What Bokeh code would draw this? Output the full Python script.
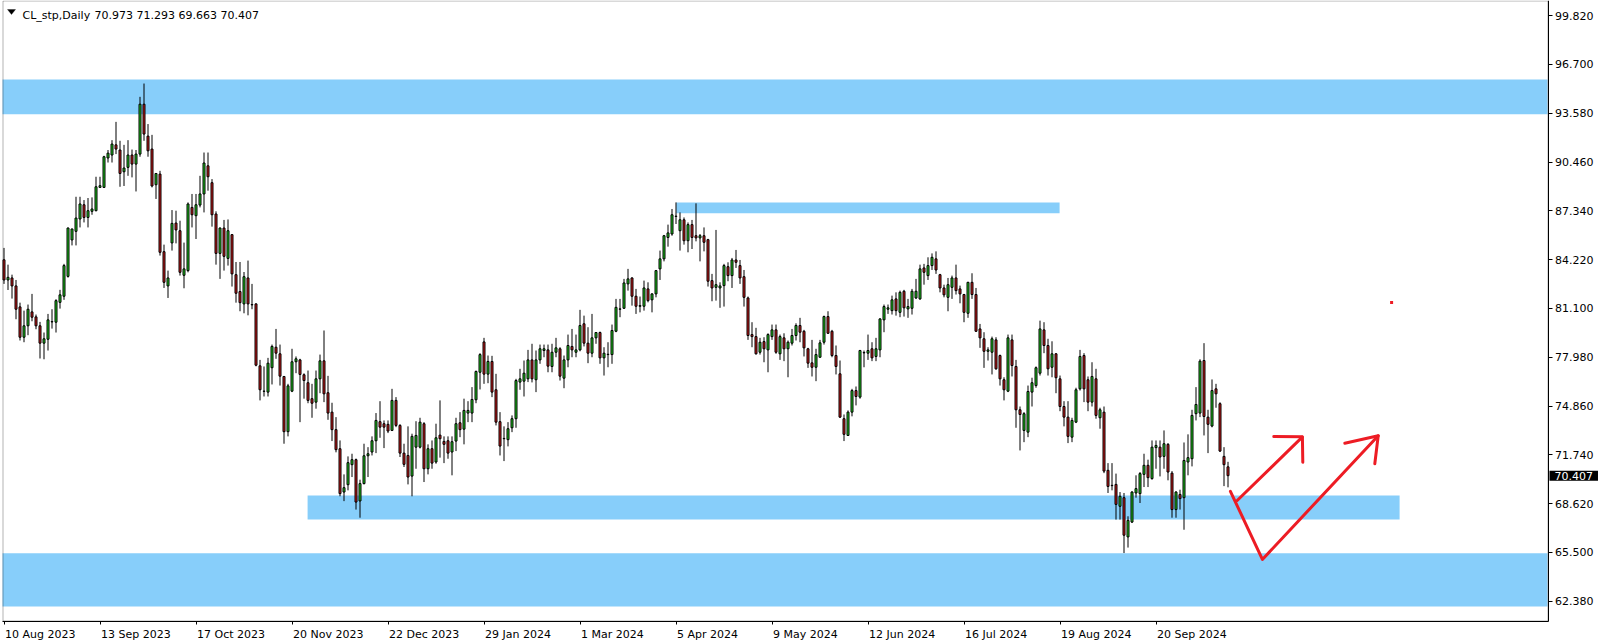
from bokeh.plotting import figure
from bokeh.models import (Range1d, FixedTicker, PrintfTickFormatter, Label, LinearAxis,
                          PolyAnnotation, BoxAnnotation, ColumnDataSource)
from bokeh.embed import file_html
from bokeh.resources import INLINE

# ---------------- data (CL_stp, Daily, one value per bar) ----------------
opens = [84.21, 82.92, 83.05, 82.54, 81.20, 79.26, 79.99, 80.88, 80.56, 79.99,
         78.88, 79.13, 80.24, 80.22, 81.49, 81.88, 83.15, 85.48, 86.03, 86.82,
         87.73, 86.92, 87.31, 87.35, 88.84, 88.84, 90.72, 90.91, 91.56, 91.23,
         89.84, 90.12, 90.91, 90.33, 90.97, 94.16, 92.12, 91.29, 89.01, 89.69,
         84.73, 82.54, 85.29, 86.56, 86.07, 83.22, 83.52, 87.56, 87.03, 87.71,
         88.42, 90.22, 89.14, 87.14, 84.62, 86.24, 84.30, 85.82, 83.26, 82.18,
         81.39, 83.05, 81.35, 81.39, 77.43, 75.81, 75.75, 77.31, 78.62, 78.20,
         76.75, 73.22, 75.81, 77.69, 77.81, 76.86, 76.35, 75.33, 75.11, 76.60,
         77.75, 75.71, 74.47, 73.35, 72.13, 69.36, 69.83, 71.11, 71.43, 68.79,
         69.90, 71.68, 71.92, 72.64, 73.86, 73.73, 73.69, 73.30, 75.22, 73.62,
         71.85, 71.70, 70.38, 72.23, 72.23, 73.73, 70.85, 72.13, 71.28, 73.00,
         72.60, 72.64, 71.92, 72.62, 73.79, 73.38, 74.41, 74.41, 75.26, 77.02,
         78.96, 76.90, 77.71, 75.90, 73.86, 72.79, 72.71, 73.47, 74.05, 76.39,
         76.45, 76.60, 77.81, 76.54, 77.81, 78.41, 78.45, 77.39, 78.30, 78.52,
         76.64, 77.81, 78.67, 78.30, 78.45, 80.12, 78.88, 78.24, 79.22, 79.56,
         77.94, 78.15, 78.15, 79.64, 81.07, 81.11, 82.67, 83.05, 81.88, 81.24,
         81.24, 82.35, 81.65, 82.03, 83.63, 84.27, 85.64, 85.86, 86.98, 86.07,
         86.77, 85.43, 86.46, 85.75, 85.61, 85.75, 85.50, 82.88, 82.45, 82.41,
         82.56, 83.77, 83.20, 84.20, 83.84, 83.13, 81.77, 79.43, 79.30, 78.30,
         78.98, 78.45, 79.30, 79.73, 78.20, 79.22, 78.52, 78.88, 79.37, 80.01,
         79.64, 78.52, 77.62, 77.34, 77.98, 78.94, 80.58, 79.64, 78.09, 76.92,
         74.05, 72.98, 74.47, 75.85, 75.43, 78.28, 78.24, 78.52, 78.03, 78.45,
         80.37, 81.05, 80.96, 81.71, 80.85, 82.20, 81.07, 81.11, 81.77, 81.71,
         83.69, 83.20, 83.84, 84.27, 83.26, 82.41, 81.81, 82.45, 83.05, 82.35,
         81.99, 80.79, 82.77, 81.99, 79.79, 79.16, 78.36, 78.30, 79.09, 78.09,
         76.54, 75.81, 79.09, 77.39, 74.62, 73.30, 73.19, 75.75, 76.17, 76.96,
         79.73, 78.73, 77.34, 78.20, 76.60, 74.83, 74.15, 72.87, 73.83, 75.96,
         78.09, 76.54, 75.11, 76.60, 74.11, 74.47, 70.75, 69.79, 69.85, 68.45,
         69.00, 66.49, 67.44, 69.30, 69.26, 70.49, 71.07, 70.22, 72.20, 72.23,
         71.64, 72.41, 70.57, 68.24, 69.21, 69.00, 71.28, 71.49, 74.37, 74.41,
         77.77, 74.15, 73.58, 75.96, 75.01, 71.64, 70.973]

highs = [84.97, 83.90, 83.26, 82.92, 81.47, 80.96, 81.35, 82.03, 80.71, 80.24,
         79.56, 80.75, 81.05, 81.69, 82.29, 83.95, 86.28, 86.20, 88.24, 88.24,
         88.03, 88.16, 88.20, 89.52, 89.52, 90.86, 91.23, 91.86, 93.03, 91.82,
         91.56, 91.86, 91.26, 91.23, 94.63, 95.48, 92.89, 92.20, 89.73, 89.90,
         85.18, 83.52, 87.39, 87.35, 86.71, 85.31, 87.88, 88.42, 88.42, 89.58,
         91.07, 91.07, 89.37, 87.31, 86.28, 86.76, 86.79, 85.86, 84.07, 84.07,
         83.43, 84.16, 82.67, 81.43, 77.81, 77.39, 77.94, 78.79, 79.79, 78.79,
         76.75, 76.28, 78.52, 78.03, 77.88, 76.95, 77.13, 76.28, 77.13, 78.15,
         79.69, 76.79, 75.07, 74.15, 72.66, 70.49, 71.64, 71.81, 71.50, 70.15,
         72.45, 72.23, 72.92, 74.41, 75.17, 73.94, 73.94, 75.96, 75.43, 73.70,
         72.45, 73.56, 73.09, 73.89, 74.11, 73.83, 72.41, 72.66, 73.73, 75.22,
         72.92, 72.92, 72.92, 74.11, 74.47, 75.33, 75.17, 76.07, 77.13, 78.24,
         79.22, 78.09, 78.07, 76.92, 74.47, 73.56, 73.83, 74.26, 76.60, 77.24,
         77.77, 78.45, 78.84, 78.41, 78.79, 78.79, 78.79, 78.84, 79.22, 78.62,
         78.09, 79.43, 79.79, 79.43, 81.01, 80.64, 79.90, 80.75, 79.58, 79.62,
         78.62, 78.94, 80.07, 81.71, 81.71, 82.99, 83.63, 83.09, 82.35, 81.86,
         82.88, 82.77, 82.07, 83.56, 84.80, 85.80, 86.46, 87.46, 87.88, 87.24,
         86.92, 86.60, 86.76, 87.82, 85.86, 86.28, 85.55, 83.31, 86.12, 82.77,
         83.95, 84.05, 84.33, 84.84, 84.20, 83.56, 81.86, 80.22, 79.86, 79.22,
         79.26, 79.51, 80.07, 80.07, 79.43, 79.51, 79.05, 79.79, 80.15, 80.50,
         79.73, 78.58, 79.09, 78.52, 79.09, 80.64, 80.92, 79.73, 78.73, 77.77,
         74.32, 74.58, 75.96, 76.11, 78.45, 78.41, 79.43, 78.94, 79.22, 80.48,
         81.35, 81.35, 81.92, 82.13, 82.24, 82.29, 81.71, 82.35, 82.99, 83.90,
         83.95, 84.37, 84.62, 84.75, 83.31, 82.62, 83.05, 83.20, 83.90, 82.56,
         82.03, 82.80, 83.35, 82.41, 80.11, 79.58, 78.62, 79.30, 79.26, 78.15,
         76.70, 79.43, 79.43, 77.81, 74.83, 74.47, 76.17, 76.67, 77.39, 80.32,
         80.22, 79.16, 79.00, 78.25, 76.81, 75.17, 75.17, 74.11, 76.03, 78.45,
         78.24, 76.75, 77.66, 77.24, 74.75, 74.83, 71.21, 71.21, 70.54, 69.36,
         69.30, 67.81, 69.42, 70.43, 70.64, 71.81, 71.43, 72.66, 72.66, 72.66,
         73.30, 72.49, 70.70, 69.42, 69.51, 72.53, 73.05, 74.62, 76.07, 77.85,
         78.88, 74.62, 76.56, 76.28, 75.10, 72.23, 71.293]

lows = [82.67, 82.28, 81.73, 80.41, 79.05, 78.94, 79.39, 80.28, 79.77, 77.90,
        77.85, 78.41, 79.81, 79.56, 81.09, 81.65, 83.07, 85.13, 85.13, 86.28,
        86.60, 86.28, 87.09, 87.31, 88.80, 88.80, 90.43, 90.43, 90.97, 88.88,
        88.93, 89.58, 89.48, 88.58, 90.80, 91.82, 90.80, 88.84, 88.10, 84.48,
        82.41, 81.77, 84.80, 85.26, 83.20, 82.39, 83.41, 86.28, 85.54, 87.56,
        87.24, 88.63, 86.33, 83.90, 82.99, 83.52, 83.84, 82.50, 81.47, 80.92,
        80.79, 80.66, 81.05, 77.40, 75.22, 75.47, 75.47, 76.24, 77.88, 76.17,
        72.45, 72.92, 75.75, 76.96, 73.83, 75.33, 75.04, 74.11, 74.69, 75.68,
        75.11, 73.98, 72.62, 71.90, 69.09, 68.78, 69.47, 70.32, 68.24, 67.72,
        69.85, 70.32, 71.70, 71.85, 72.83, 72.17, 73.13, 73.26, 73.51, 71.60,
        70.96, 69.85, 69.09, 70.85, 72.15, 70.00, 70.49, 70.85, 71.17, 71.56,
        71.21, 71.49, 70.43, 71.98, 72.87, 72.41, 73.83, 73.83, 75.04, 75.92,
        76.28, 76.32, 75.43, 73.62, 71.70, 71.34, 72.28, 73.19, 73.47, 75.90,
        75.47, 76.39, 76.37, 75.75, 77.56, 77.98, 77.02, 77.02, 77.98, 76.49,
        76.00, 77.34, 77.98, 77.98, 78.36, 78.67, 77.60, 77.98, 78.84, 77.56,
        76.81, 77.34, 77.56, 79.58, 80.54, 81.07, 82.24, 81.28, 80.75, 80.85,
        80.96, 81.49, 80.85, 81.81, 82.92, 84.11, 85.05, 85.75, 86.50, 84.80,
        85.18, 84.69, 84.90, 85.39, 84.11, 84.75, 82.50, 81.56, 81.60, 81.14,
        81.22, 82.84, 82.41, 83.69, 82.67, 81.22, 79.09, 78.62, 78.15, 78.15,
        77.66, 77.02, 79.09, 78.20, 77.81, 77.73, 76.70, 78.73, 79.05, 78.94,
        78.03, 77.30, 76.75, 76.45, 77.95, 78.79, 79.48, 77.98, 76.88, 74.10,
        72.62, 72.95, 74.20, 74.90, 75.33, 77.34, 77.81, 77.73, 77.73, 77.98,
        79.58, 80.75, 80.71, 80.64, 80.54, 80.58, 80.50, 80.71, 81.70, 81.65,
        82.62, 82.92, 83.56, 83.31, 82.13, 81.81, 80.92, 81.71, 81.99, 81.43,
        80.22, 80.50, 81.71, 79.60, 78.58, 77.30, 77.77, 76.88, 77.18, 76.17,
        75.22, 75.75, 76.75, 73.47, 72.02, 72.55, 72.87, 74.83, 76.03, 76.81,
        78.24, 76.81, 76.70, 75.68, 74.53, 73.56, 72.49, 72.55, 73.77, 75.85,
        75.11, 74.53, 74.83, 74.05, 73.41, 70.57, 69.30, 69.47, 67.60, 67.60,
        65.46, 65.81, 67.38, 69.00, 68.66, 69.68, 69.68, 70.15, 70.85, 70.36,
        70.85, 70.11, 67.72, 67.72, 68.24, 66.95, 70.43, 71.00, 73.94, 74.15,
        72.98, 71.85, 73.50, 74.75, 71.92, 69.74, 69.663]

closes = [82.92, 83.09, 82.54, 81.05, 79.26, 79.99, 81.05, 80.54, 79.99, 78.88,
          79.16, 80.37, 80.26, 81.60, 81.97, 83.84, 86.24, 86.18, 86.88, 87.78,
          86.92, 87.35, 87.46, 88.88, 88.95, 90.80, 91.03, 91.61, 91.29, 89.73,
          90.08, 90.91, 90.33, 90.97, 94.16, 92.25, 91.18, 88.93, 89.73, 84.69,
          82.77, 83.05, 86.54, 86.12, 83.41, 83.63, 87.78, 87.09, 87.73, 88.42,
          90.40, 89.52, 87.09, 84.62, 86.24, 84.43, 86.07, 83.31, 82.07, 81.47,
          83.13, 81.39, 81.33, 77.47, 75.90, 75.80, 77.60, 78.67, 78.24, 76.77,
          73.22, 76.15, 77.69, 77.88, 76.88, 76.49, 75.22, 75.04, 76.60, 77.75,
          75.64, 74.41, 73.35, 72.07, 69.26, 69.64, 71.24, 71.43, 68.72, 69.90,
          71.68, 71.81, 72.64, 73.94, 73.51, 73.51, 73.26, 75.22, 73.62, 71.85,
          71.13, 70.32, 72.92, 72.98, 73.83, 70.85, 72.13, 71.21, 72.83, 72.77,
          72.41, 71.85, 72.58, 73.73, 73.35, 74.58, 74.58, 75.28, 77.07, 78.15,
          76.90, 77.71, 75.75, 73.83, 72.30, 72.77, 73.41, 74.05, 76.49, 76.60,
          76.96, 77.81, 76.60, 77.81, 78.52, 78.52, 77.41, 78.30, 78.58, 76.77,
          77.81, 78.73, 78.45, 78.45, 80.01, 78.88, 78.24, 79.22, 79.56, 77.94,
          78.24, 78.17, 79.69, 81.17, 81.05, 82.73, 82.99, 81.88, 81.24, 81.28,
          82.41, 81.60, 82.03, 83.52, 84.27, 85.75, 85.93, 87.09, 87.00, 86.77,
          85.43, 86.46, 85.64, 85.61, 85.75, 85.33, 82.84, 82.41, 82.62, 82.54,
          83.84, 83.20, 84.20, 84.05, 83.05, 81.81, 79.37, 79.30, 78.20, 78.94,
          78.52, 79.43, 79.73, 78.30, 79.30, 78.52, 78.94, 79.37, 80.01, 79.58,
          78.58, 77.60, 77.34, 78.15, 78.90, 80.58, 79.51, 78.09, 77.39, 74.15,
          73.05, 74.47, 75.85, 75.47, 78.41, 78.26, 78.41, 77.94, 78.52, 80.43,
          81.22, 81.14, 81.65, 80.96, 82.13, 81.14, 81.22, 82.20, 82.20, 83.63,
          83.41, 83.84, 84.37, 83.56, 82.41, 81.97, 82.62, 83.05, 82.24, 82.03,
          80.85, 82.77, 81.99, 79.64, 79.22, 78.36, 78.45, 79.16, 77.24, 76.60,
          75.90, 79.22, 77.45, 74.62, 74.32, 74.37, 75.79, 76.35, 77.31, 79.79,
          78.73, 77.24, 78.20, 76.67, 74.83, 74.15, 72.92, 73.94, 75.90, 78.03,
          75.96, 75.11, 76.75, 74.26, 74.62, 70.70, 69.72, 69.77, 68.57, 69.09,
          66.60, 67.55, 69.36, 69.58, 70.54, 71.07, 70.28, 72.23, 72.34, 71.60,
          72.45, 70.64, 68.24, 69.36, 68.94, 71.38, 71.56, 74.26, 74.96, 77.73,
          74.19, 73.69, 75.85, 75.64, 71.98, 71.11, 70.407]

symbol = "CL_stp,Daily"
date_tick_bars = [0, 24, 48, 72, 96, 120, 144, 168, 192, 216, 240, 264, 288]
date_tick_labels = ["10 Aug 2023", "13 Sep 2023", "17 Oct 2023", "20 Nov 2023",
                    "22 Dec 2023", "29 Jan 2024", "1 Mar 2024", "5 Apr 2024",
                    "9 May 2024", "12 Jun 2024", "16 Jul 2024", "19 Aug 2024",
                    "20 Sep 2024"]
price_ticks = [62.38, 65.50, 68.62, 71.74, 74.86, 77.98, 81.10, 84.22,
               87.34, 90.46, 93.58, 96.70, 99.82]

# drawn zones: (bottom price, top price, first bar, last bar) ; None = full width
zone_bottoms = [93.52, 87.19, 67.61, 62.04]
zone_tops = [95.74, 87.87, 69.14, 65.45]
zone_from_bar = [None, 168.05, 75.9, None]
zone_to_bar = [None, 263.9, 348.9, None]

# hand-drawn red strokes (bar, price)
stroke_v_bar = [306.6, 314.6, 343.55]
stroke_v_price = [69.41, 65.05, 72.96]
stroke_a_bar = [308.3, 324.55]
stroke_a_price = [68.82, 72.87]
head_a_bar = [317.45, 324.6, 324.7]
head_a_price = [72.91, 72.89, 71.27]
head_b_bar = [335.2, 343.55, 342.7]
head_b_price = [72.48, 72.96, 71.17]
dot_bar = [346.9]
dot_price = [81.48]

# ---------------- layout (canvas pixels) ----------------
W, H = 1604, 644
AREA_L, AREA_R, AREA_B = 2, 1547, 620     # chart area edges; price scale right, time scale below
BAR_PX = 4.0
FIRST_BAR_PX = 3.5
PRICE_AT_Y0, PRICE_PER_PX = 100.79, 0.06394
DATE_BASELINE = 634
HEADER_BASELINE = 15


def price_at(ypix):
    return PRICE_AT_Y0 - PRICE_PER_PX * ypix


def bar_at(xpix):
    return (xpix - FIRST_BAR_PX) / BAR_PX


FONT = "DejaVu Sans"
GREEN = "#1ed21e"
RED = "#d21a1a"
ZONE = "#87cefa"
PEN = "#ed1c24"

p = figure(width=W, height=H,
           x_range=Range1d(bar_at(0), bar_at(W)),
           y_range=Range1d(price_at(H), price_at(0)),
           output_backend="svg", toolbar_location=None,
           x_axis_location=None, y_axis_location=None,
           min_border=0, min_border_left=0, min_border_right=0,
           min_border_top=0, min_border_bottom=0)
p.background_fill_color = "white"
p.border_fill_color = "white"
p.outline_line_color = None
p.xgrid.visible = False
p.ygrid.visible = False

# price scale (right), drawn at the right edge of the chart area
yax = LinearAxis(fixed_location=bar_at(AREA_R + 0.5),
                 bounds=(price_at(AREA_B + 0.5), price_at(0)),
                 ticker=FixedTicker(ticks=price_ticks),
                 formatter=PrintfTickFormatter(format="%.3f"))
yax.major_tick_out = 4
yax.major_tick_in = 0
yax.minor_tick_line_color = None
yax.major_label_standoff = 3
yax.major_label_text_font = FONT
yax.major_label_text_font_size = "11px"
yax.major_label_text_color = "black"
yax.axis_line_color = "black"
yax.major_tick_line_color = "black"
p.add_layout(yax, "right")

# time scale (below): ticks on the axis, dates written to the right of each tick (MT4 style)
xax = LinearAxis(fixed_location=price_at(AREA_B + 0.5),
                 bounds=(bar_at(AREA_L), bar_at(AREA_R + 0.5)),
                 ticker=FixedTicker(ticks=date_tick_bars))
xax.major_tick_out = 3
xax.major_tick_in = 0
xax.minor_tick_line_color = None
xax.major_label_text_color = None
xax.axis_line_color = "black"
xax.major_tick_line_color = "black"
p.add_layout(xax, "below")

for t, s in zip(date_tick_bars, date_tick_labels):
    p.add_layout(Label(x=t, y=H - DATE_BASELINE, y_units="screen", text=s,
                       text_align="left", text_baseline="alphabetic", x_offset=1,
                       text_font=FONT, text_font_size="11px", text_color="black"))

# zones (behind the candles)
for b, t, x0, x1 in zip(zone_bottoms, zone_tops, zone_from_bar, zone_to_bar):
    left = bar_at(AREA_L) if x0 is None else x0
    right = bar_at(AREA_R) if x1 is None else x1
    p.add_layout(BoxAnnotation(bottom=b, top=t, left=left, right=right,
                               fill_color=ZONE, fill_alpha=1.0,
                               line_color=None, level="underlay"))

# chart area border (left and top edges)
p.add_layout(BoxAnnotation(left=bar_at(AREA_L + 0.5), right=bar_at(AREA_R + 0.5),
                           top=price_at(0.5), bottom=price_at(AREA_B + 0.5),
                           fill_color=None, fill_alpha=0, line_color="black",
                           line_width=1, level="overlay"))

# candles
idx = list(range(len(opens)))
up = [c >= o for o, c in zip(opens, closes)]
src = ColumnDataSource(dict(
    x=idx, o=opens, h=highs, l=lows, c=closes,
    top=[max(o, c) for o, c in zip(opens, closes)],
    bot=[min(o, c) for o, c in zip(opens, closes)],
    col=[GREEN if u else RED for u in up]))
p.segment(x0="x", y0="l", x1="x", y1="h", source=src, line_color="black", line_width=1)
p.vbar(x="x", width=0.5, top="top", bottom="bot", source=src,
       fill_color="col", line_color="black", line_width=1)

# red hand drawing
for xs, ys in [(stroke_v_bar, stroke_v_price), (stroke_a_bar, stroke_a_price),
               (head_a_bar, head_a_price), (head_b_bar, head_b_price)]:
    p.line(xs, ys, line_color=PEN, line_width=3, line_join="round", line_cap="round")
p.scatter(dot_bar, dot_price, marker="square", size=3, fill_color=PEN, line_color=None)

# header: collapse triangle, symbol and last bar OHLC
p.add_layout(PolyAnnotation(xs=[7, 15, 11], ys=[H - 9, H - 9, H - 14],
                            xs_units="screen", ys_units="screen",
                            fill_color="black", fill_alpha=1, line_color="black"))
p.add_layout(Label(x=22, y=H - HEADER_BASELINE, x_units="screen", y_units="screen",
                   text=symbol, text_align="left", text_baseline="alphabetic",
                   text_font=FONT, text_font_size="11px", text_color="black"))
ohlc_text = " ".join(f"{v:.3f}" for v in (opens[-1], highs[-1], lows[-1], closes[-1]))
p.add_layout(Label(x=94, y=H - HEADER_BASELINE, x_units="screen", y_units="screen",
                   text=ohlc_text, text_align="left", text_baseline="alphabetic",
                   text_font=FONT, text_font_size="11px", text_color="black"))

# last price marker on the price scale
lbl_kw = dict(x=AREA_R + 2, y=closes[-1], x_units="screen", y_units="data",
              text=f"{closes[-1]:.3f}", text_align="left", text_baseline="middle",
              text_font=FONT, text_font_size="11px", text_color="white",
              background_fill_color="black", background_fill_alpha=1.0)
try:
    last_lbl = Label(padding=dict(left=5, right=5, top=1, bottom=1), **lbl_kw)
except Exception:
    last_lbl = Label(**lbl_kw)
p.add_layout(last_lbl)

html = file_html(p, INLINE, title=symbol)
html = html.replace("</head>", "<style>html,body{margin:0;padding:0;overflow:hidden;}</style></head>", 1)
open("out.html", "w").write(html)
